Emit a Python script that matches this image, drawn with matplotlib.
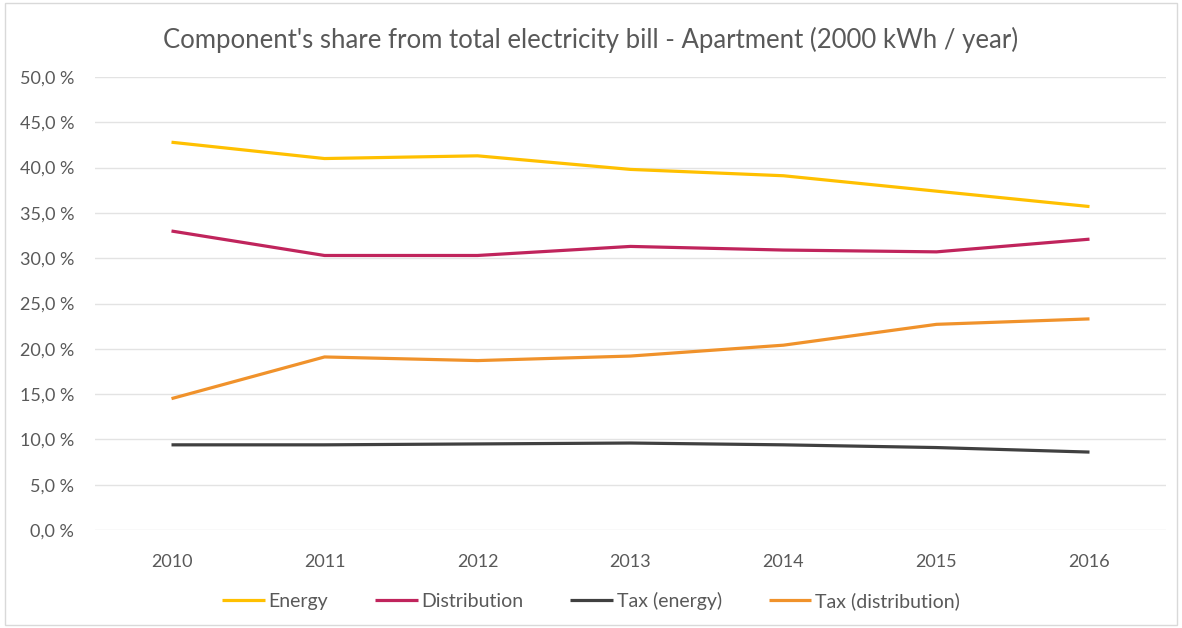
import matplotlib.pyplot as plt
from matplotlib.ticker import FuncFormatter, MultipleLocator

years = ["2010", "2011", "2012", "2013", "2014", "2015", "2016"]
energy = [42.8, 41.0, 41.3, 39.8, 39.1, 37.4, 35.7]
distribution = [33.0, 30.3, 30.3, 31.3, 30.9, 30.7, 32.1]
tax_energy = [9.4, 9.4, 9.5, 9.6, 9.4, 9.1, 8.6]
tax_distribution = [14.5, 19.1, 18.7, 19.2, 20.4, 22.7, 23.3]

series = [
    ("Energy", energy, "#FFC000"),
    ("Distribution", distribution, "#C0245C"),
    ("Tax (energy)", tax_energy, "#404040"),
    ("Tax (distribution)", tax_distribution, "#F0922B"),
]

plt.rcParams['font.family'] = ['Lato', 'DejaVu Sans']
text_col = "#595959"

fig = plt.figure(figsize=(11.82, 6.28), dpi=100)
ax = fig.add_axes([95 / 1182, (628 - 530) / 628, (1166 - 95) / 1182, (530 - 77) / 628])

x = range(len(years))
for name, vals, col in series:
    ax.plot(x, vals, color=col, lw=2.3, label=name, solid_capstyle='butt')

ax.set_xlim(-0.5, len(years) - 0.5)
ax.set_ylim(0, 50)
ax.yaxis.set_major_locator(MultipleLocator(5))
ax.yaxis.set_major_formatter(FuncFormatter(lambda v, p: f"{v:.1f}".replace(".", ",") + " %"))
ax.set_xticks(list(x))
ax.set_xticklabels(years)
ax.grid(axis='y', color="#e3e3e3", lw=1)
ax.set_axisbelow(True)
for s in ax.spines.values():
    s.set_visible(False)
ax.tick_params(length=0, colors=text_col, labelsize=13)
ax.tick_params(axis='x', pad=17)
ax.tick_params(axis='y', pad=15)

fig.text(0.5, 1 - 40 / 628, "Component's share from total electricity bill - Apartment (2000 kWh / year)",
         ha='center', va='center', fontsize=18.5, color=text_col)

leg = fig.legend(loc='center', bbox_to_anchor=(0.5, 1 - 601 / 628), ncol=4, frameon=False,
                 fontsize=14, handlelength=2.2, handletextpad=0.2, columnspacing=2.4)
for t in leg.get_texts():
    t.set_color(text_col)

fig.patches.append(plt.Rectangle((0.004, 0.004), 0.992, 0.992, transform=fig.transFigure,
                                 fill=False, edgecolor="#d9d9d9", lw=1))

plt.savefig('out.png', dpi=100)
